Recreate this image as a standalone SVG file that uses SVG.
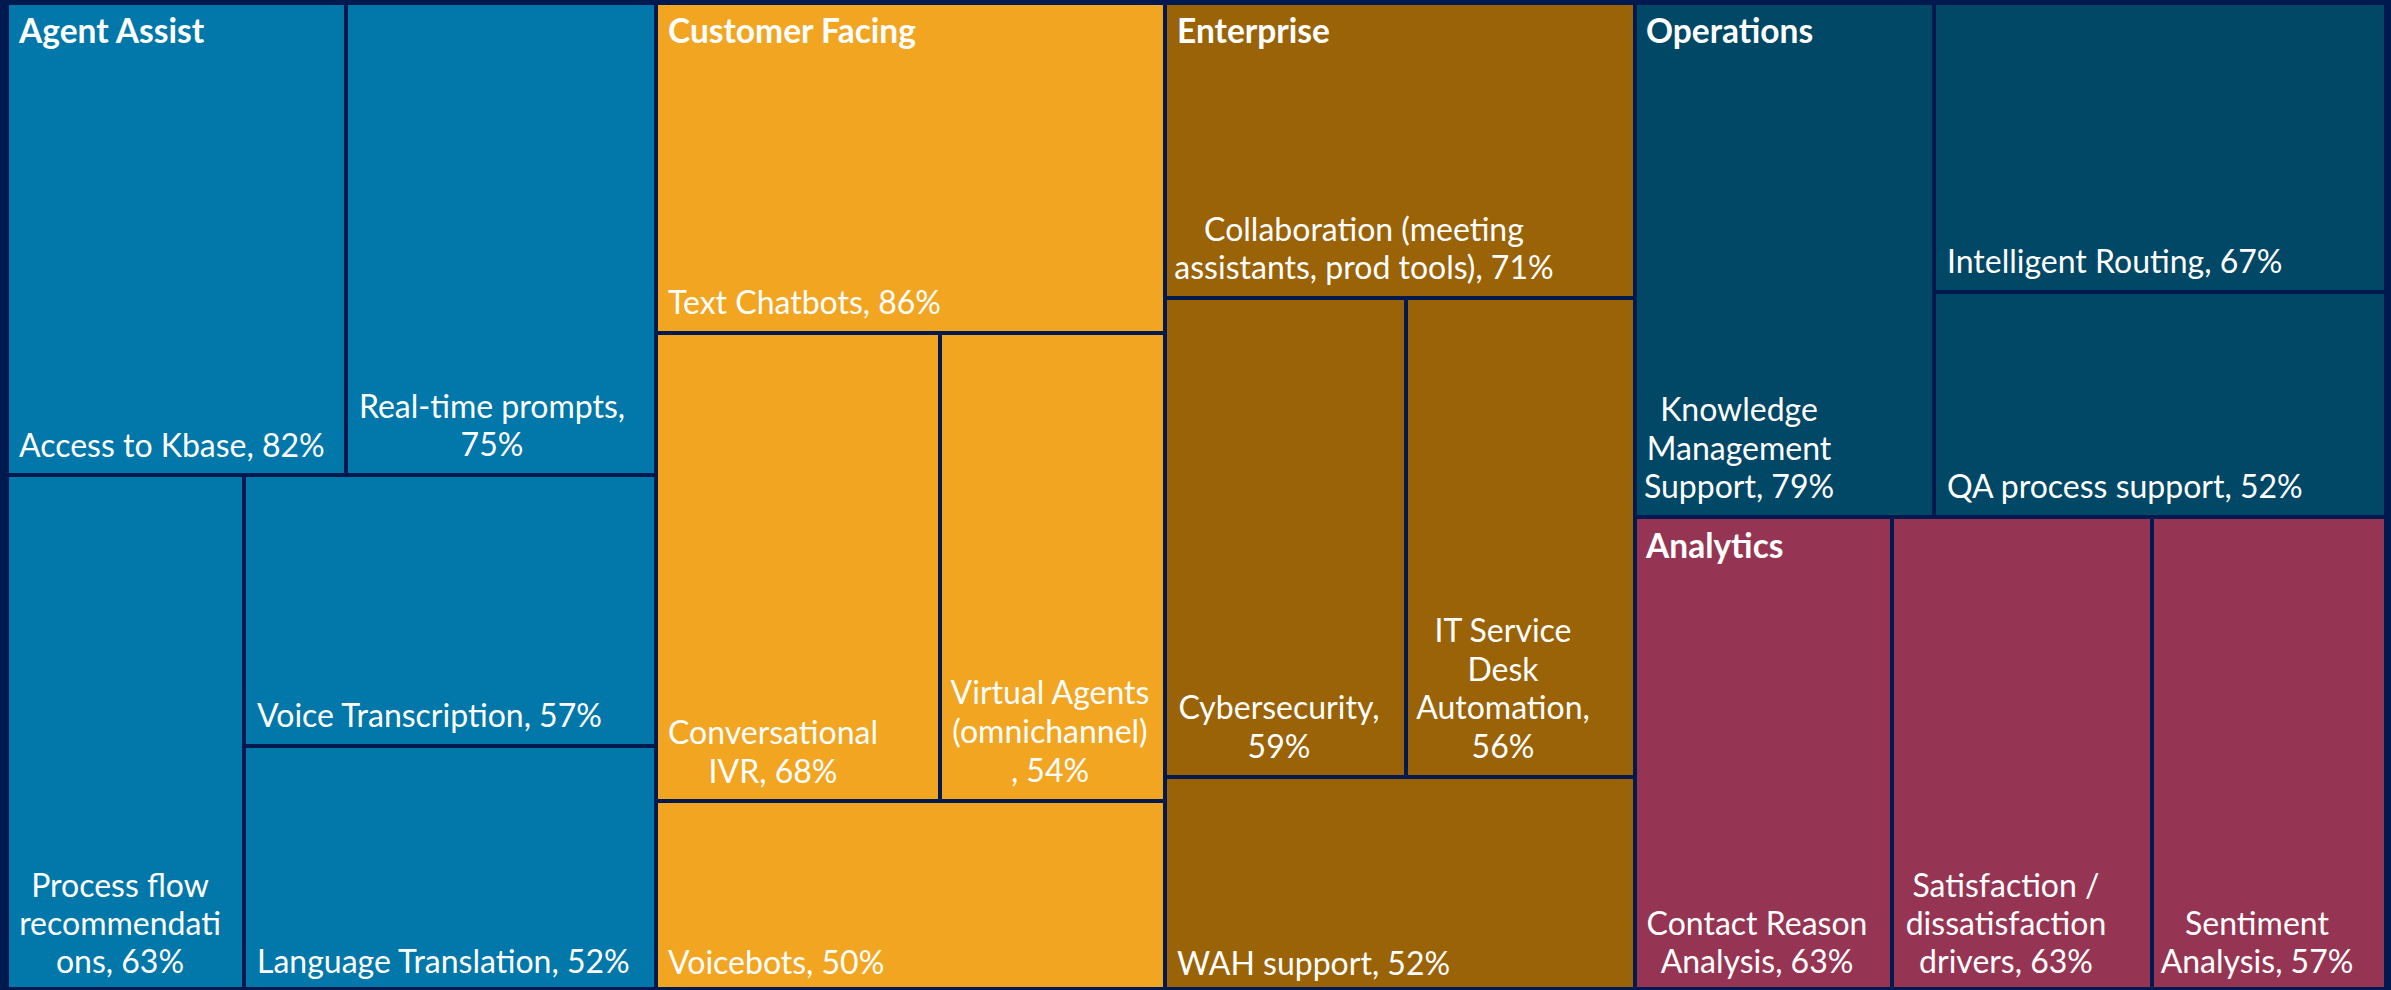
<svg xmlns="http://www.w3.org/2000/svg" width="2391" height="990" viewBox="0 0 2391 990">
<style>
.bg{fill:#001a4f}
.aa{fill:#0277a9}
.cf{fill:#f2a521}
.en{fill:#9a6308}
.op{fill:#014766}
.an{fill:#963553}
text{fill:#ffffff;font-family:Lato,"Liberation Sans",sans-serif;font-size:32px}
.t{font-weight:bold;font-size:33.5px}
.m{text-anchor:middle}
</style>
<rect class="bg" x="0" y="0" width="2391" height="990"/>
<g id="agent-assist">
<g id="access-kbase"><rect class="aa" x="9" y="5" width="335" height="468"/><text x="19" y="457">Access to Kbase, 82%</text></g>
<g id="realtime-prompts"><rect class="aa" x="348" y="5" width="306" height="468"/><text class="m" x="492" y="418">Real-time prompts,</text><text class="m" x="492" y="456">75%</text></g>
<g id="process-flow"><rect class="aa" x="9" y="477" width="233" height="510"/><text class="m" x="120" y="897">Process flow</text><text class="m" x="120" y="935">recommendati</text><text class="m" x="120" y="973">ons, 63%</text></g>
<g id="voice-transcription"><rect class="aa" x="246" y="477" width="408" height="267"/><text x="257" y="727">Voice Transcription, 57%</text></g>
<g id="language-translation"><rect class="aa" x="246" y="748" width="408" height="239"/><text x="257" y="973">Language Translation, 52%</text></g>
<text class="t" x="19" y="43">Agent Assist</text>
</g>
<g id="customer-facing">
<g id="text-chatbots"><rect class="cf" x="658" y="5" width="505" height="326"/><text x="668" y="314">Text Chatbots, 86%</text></g>
<g id="conversational-ivr"><rect class="cf" x="658" y="335" width="280" height="464"/><text class="m" x="773" y="744">Conversational</text><text class="m" x="773" y="783">IVR, 68%</text></g>
<g id="virtual-agents"><rect class="cf" x="942" y="335" width="221" height="464"/><text class="m" x="1050" y="704">Virtual Agents</text><text class="m" x="1050" y="743">(omnichannel)</text><text class="m" x="1050" y="782">, 54%</text></g>
<g id="voicebots"><rect class="cf" x="658" y="803" width="505" height="184"/><text x="668" y="974">Voicebots, 50%</text></g>
<text class="t" x="668" y="43">Customer Facing</text>
</g>
<g id="enterprise">
<g id="collaboration"><rect class="en" x="1167" y="5" width="466" height="291"/><text class="m" x="1364" y="241">Collaboration (meeting</text><text class="m" x="1364" y="279">assistants, prod tools), 71%</text></g>
<g id="cybersecurity"><rect class="en" x="1167" y="300" width="237" height="475"/><text class="m" x="1279" y="719">Cybersecurity,</text><text class="m" x="1279" y="758">59%</text></g>
<g id="it-service-desk"><rect class="en" x="1408" y="300" width="225" height="475"/><text class="m" x="1503" y="642">IT Service</text><text class="m" x="1503" y="681">Desk</text><text class="m" x="1503" y="719">Automation,</text><text class="m" x="1503" y="758">56%</text></g>
<g id="wah-support"><rect class="en" x="1167" y="779" width="466" height="208"/><text x="1177" y="975">WAH support, 52%</text></g>
<text class="t" x="1177" y="43">Enterprise</text>
</g>
<g id="operations">
<g id="knowledge-management"><rect class="op" x="1637" y="5" width="295" height="510"/><text class="m" x="1739" y="421">Knowledge</text><text class="m" x="1739" y="460">Management</text><text class="m" x="1739" y="498">Support, 79%</text></g>
<g id="intelligent-routing"><rect class="op" x="1936" y="5" width="448" height="285"/><text x="1947" y="273">Intelligent Routing, 67%</text></g>
<g id="qa-process"><rect class="op" x="1936" y="294" width="448" height="221"/><text x="1947" y="498">QA process support, 52%</text></g>
<text class="t" x="1646" y="43">Operations</text>
</g>
<g id="analytics">
<g id="contact-reason"><rect class="an" x="1637" y="519" width="253" height="468"/><text class="m" x="1757" y="935">Contact Reason</text><text class="m" x="1757" y="973">Analysis, 63%</text></g>
<g id="satisfaction"><rect class="an" x="1894" y="519" width="256" height="468"/><text class="m" x="2006" y="897">Satisfaction /</text><text class="m" x="2006" y="935">dissatisfaction</text><text class="m" x="2006" y="973">drivers, 63%</text></g>
<g id="sentiment"><rect class="an" x="2154" y="519" width="230" height="468"/><text class="m" x="2257" y="935">Sentiment</text><text class="m" x="2257" y="973">Analysis, 57%</text></g>
<text class="t" x="1646" y="558">Analytics</text>
</g>
<g id="connectors"/>
</svg>
